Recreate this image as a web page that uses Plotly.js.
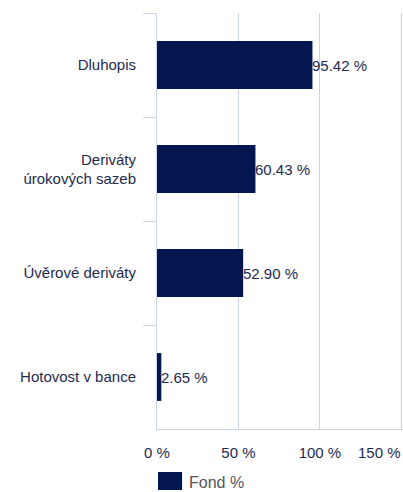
<!DOCTYPE html>
<html>
<head>
<meta charset="utf-8">
<script src="https://cdn.plot.ly/plotly-3.0.1.min.js"></script>
<style>html,body{margin:0;padding:0;background:#fff}#chart{width:403px;height:492px}</style>
</head>
<body>
<div id="chart"></div>
<script>
const categories = ["Dluhopis", "Deriváty<br>úrokových sazeb", "Úvěrové deriváty", "Hotovost v bance"];
const values = [95.42, 60.43, 52.90, 2.65];
const valueLabels = ["95.42 %", "60.43 %", "52.90 %", "2.65 %"];
const xTickVals = [0, 50, 100, 150];
const xTickText = ["0 %", "50 %", "100 %", "150 %"];
const seriesName = "Fond %";

const barColor = "#041650";
const textColor = "#1d2b50";
const gridColor = "#c9d5e8";
const font = "'Liberation Sans', Arial, sans-serif";

const trace = {
  type: "bar",
  orientation: "h",
  x: values,
  y: categories,
  name: seriesName,
  width: 0.46,
  marker: {color: barColor},
  hoverinfo: "none",
  showlegend: false
};

const lastIdx = xTickVals.length - 1;
const shownTickText = xTickText.map((t, i) => i === lastIdx ? "" : t);

const annotations = values.map((v, i) => ({
  x: v, y: categories[i], xref: "x", yref: "y",
  text: valueLabels[i], showarrow: false,
  xanchor: "left", yanchor: "middle", xshift: -2,
  font: {family: font, size: 15, color: textColor}
}));

// last x tick label, shifted left to stay inside the picture
annotations.push({
  x: xTickVals[lastIdx], y: 0, xref: "x", yref: "paper",
  text: xTickText[lastIdx], showarrow: false,
  xanchor: "right", yanchor: "top", xshift: 2, yshift: -13,
  font: {family: font, size: 15, color: textColor}
});

annotations.push({
  x: 0.122, y: -0.1298, xref: "paper", yref: "paper",
  text: seriesName, showarrow: false, xanchor: "left", yanchor: "middle",
  font: {family: font, size: 16, color: "#555555"}
});

const layout = {
  width: 403, height: 492,
  margin: {l: 157, r: 0, t: 13, b: 63},
  paper_bgcolor: "#ffffff",
  plot_bgcolor: "#ffffff",
  showlegend: false,
  font: {family: font, size: 15, color: textColor},
  xaxis: {
    range: [0, 151],
    tickvals: xTickVals,
    ticktext: shownTickText,
    showgrid: true, gridcolor: gridColor, gridwidth: 1,
    zeroline: false,
    showline: true, linecolor: gridColor, linewidth: 1,
    ticks: "", ticklabelstandoff: 10,
    tickfont: {family: font, size: 15, color: textColor},
    fixedrange: true
  },
  yaxis: {
    type: "category",
    categoryorder: "array",
    categoryarray: categories,
    autorange: "reversed",
    showgrid: false, zeroline: false,
    showline: true, linecolor: gridColor, linewidth: 1,
    tickson: "boundaries", ticks: "outside", ticklen: 13, tickcolor: gridColor, tickwidth: 1,
    ticklabelstandoff: 17,
    tickfont: {family: font, size: 15, color: textColor},
    fixedrange: true
  },
  shapes: [
    {
      type: "line", xref: "x", yref: "paper", layer: "below",
      x0: xTickVals[lastIdx], x1: xTickVals[lastIdx], y0: 0, y1: 1,
      line: {color: gridColor, width: 1}
    },
    {
      type: "rect", xref: "paper", yref: "paper",
      x0: 0.004, x1: 0.102, y0: -0.1466, y1: -0.1034,
      fillcolor: barColor, line: {width: 0}
    }
  ],
  annotations: annotations
};

Plotly.newPlot("chart", [trace], layout, {displayModeBar: false, staticPlot: true});
</script>
</body>
</html>
